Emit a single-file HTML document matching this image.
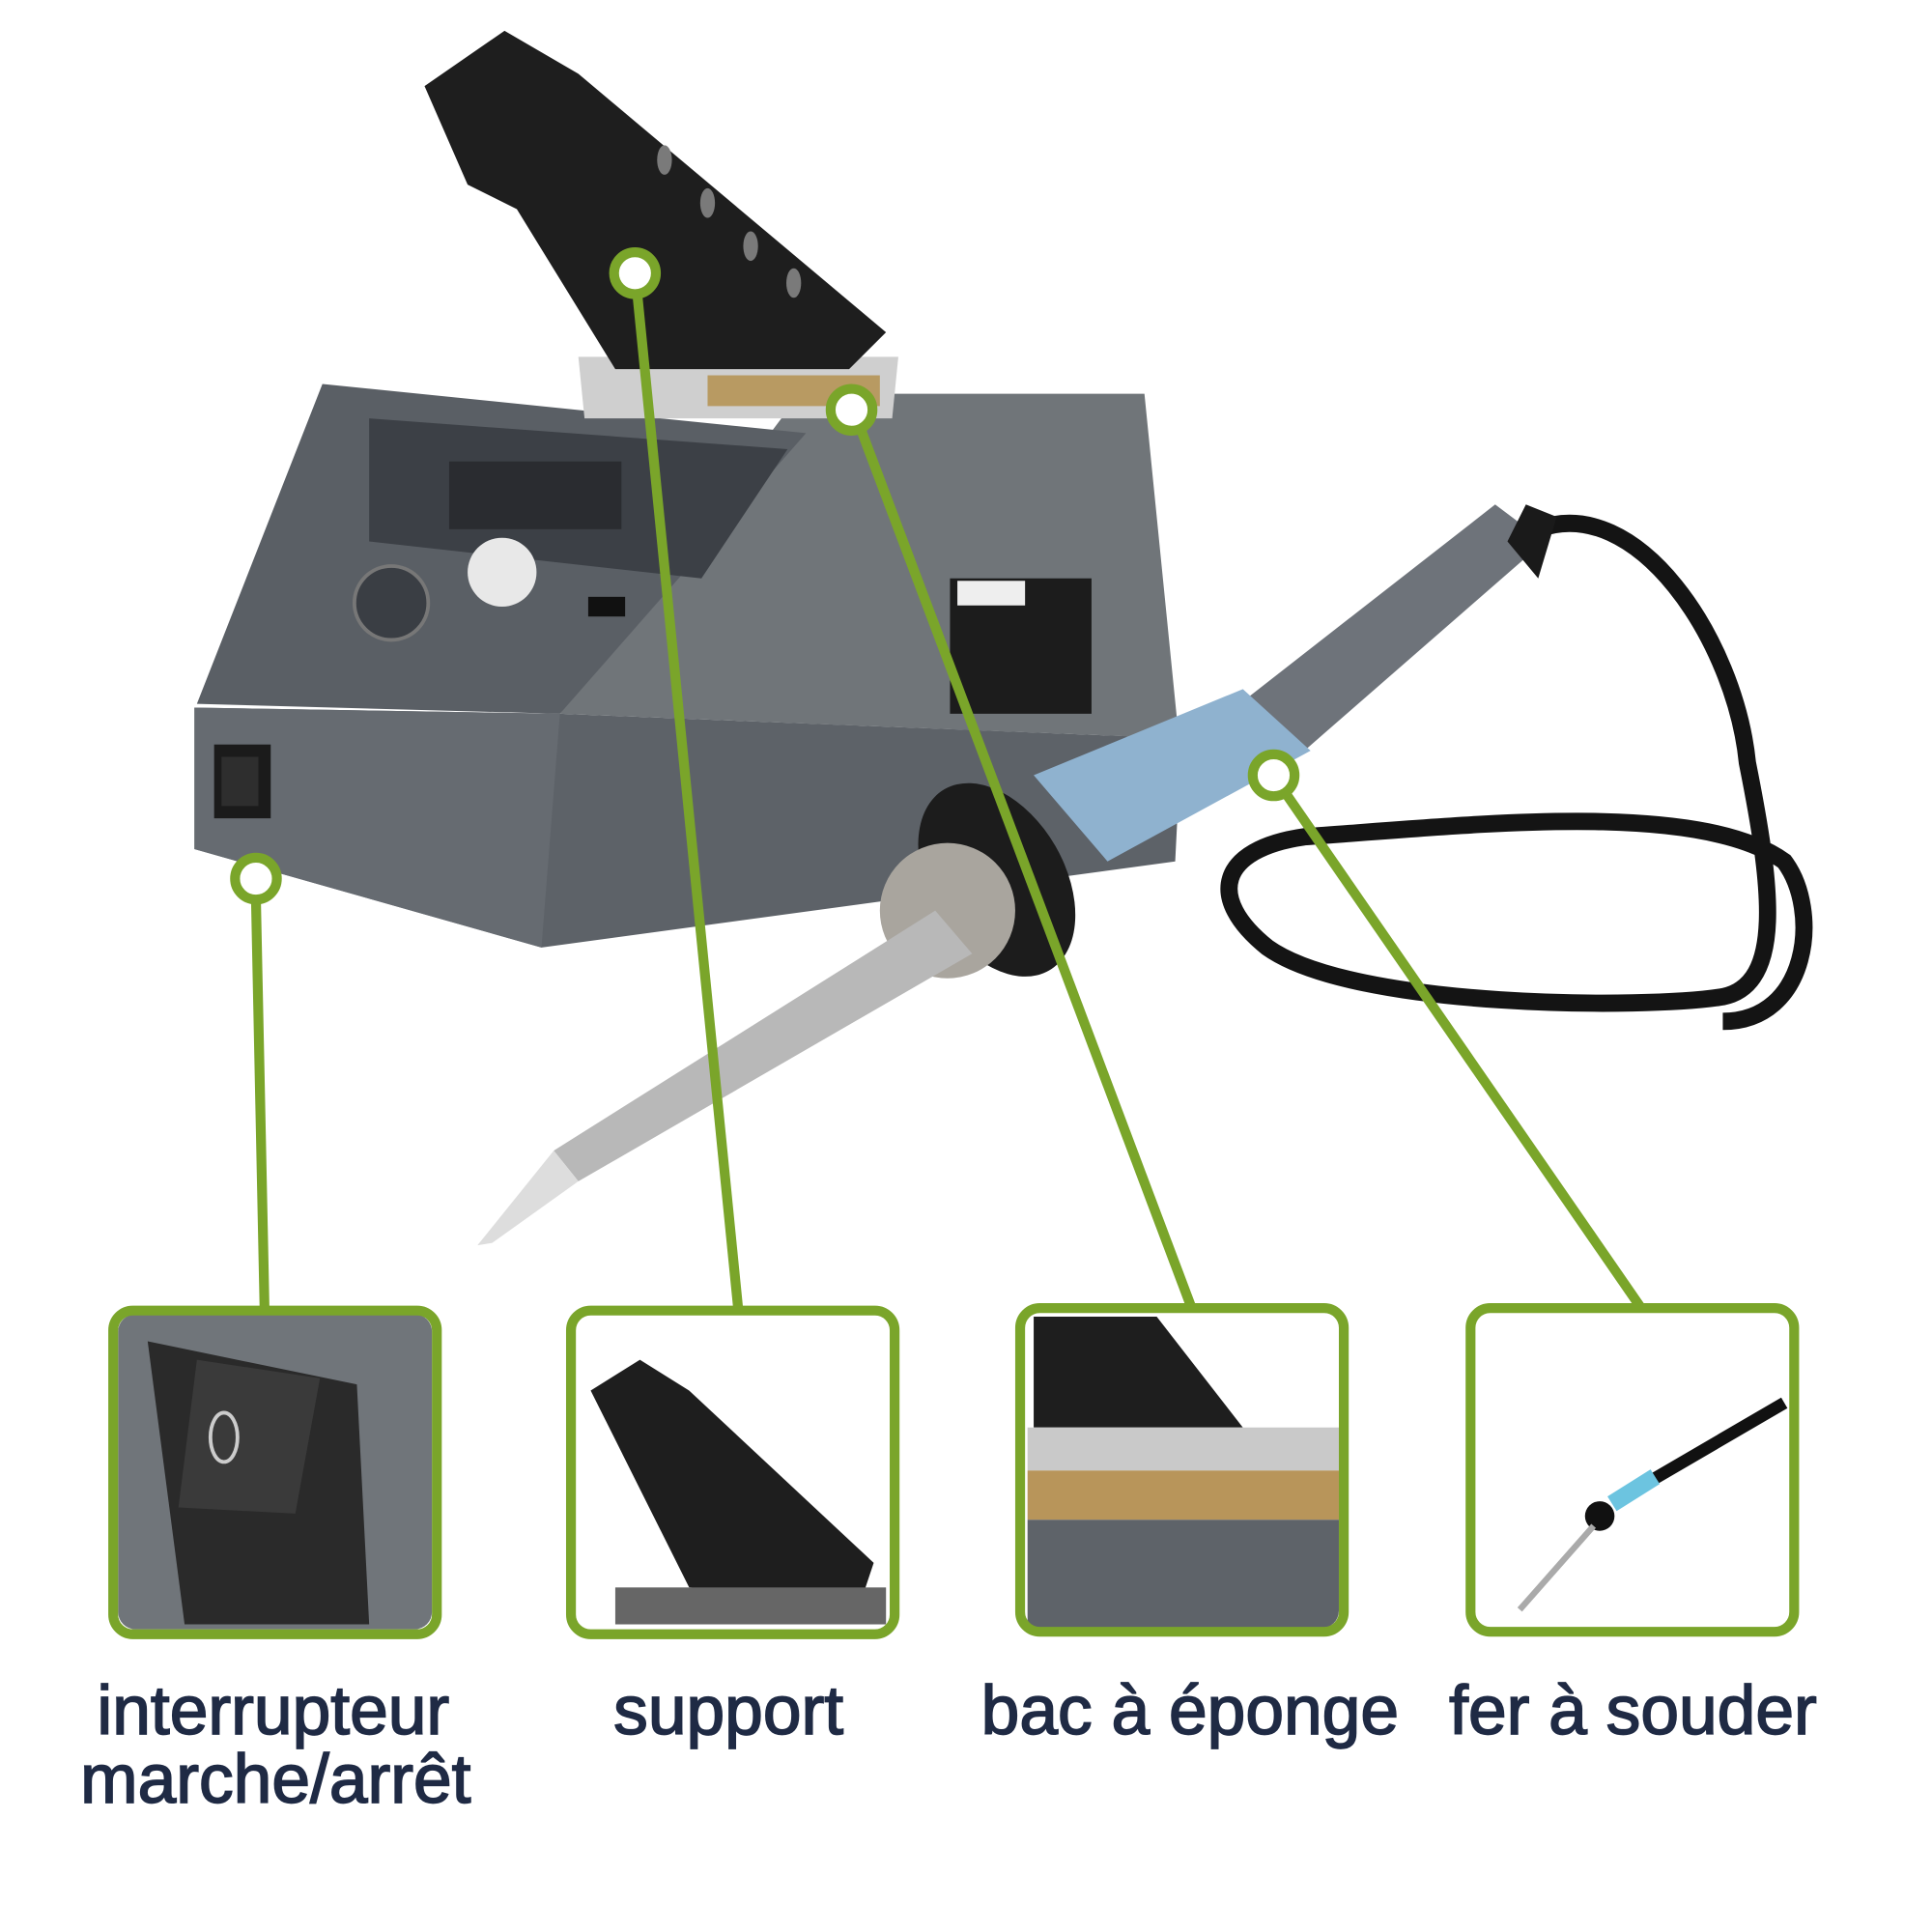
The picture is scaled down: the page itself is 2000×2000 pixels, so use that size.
<!DOCTYPE html>
<html><head><meta charset="utf-8"><style>
html,body{margin:0;padding:0;background:#fff;}
svg{display:block}
</style></head><body>
<svg width="2000" height="2000" viewBox="0 0 1570 1570" xmlns="http://www.w3.org/2000/svg">
<rect width="1570" height="1570" fill="#fff"/>
<path d="M1250,430 C1330,400 1410,520 1420,620 C1440,720 1450,800 1400,810 C1340,820 1100,820 1030,770 C980,730 990,690 1060,680 C1200,670 1380,650 1450,700 C1480,740 1470,830 1400,830" fill="none" stroke="#141414" stroke-width="14"/>
<polygon points="158,575 455,580 960,600 955,700 440,770 158,690" fill="#5d6268"/>
<polygon points="158,575 455,580 440,770 158,690" fill="#666b71"/>
<polygon points="650,320 930,320 958,600 455,580" fill="#707579"/>
<polygon points="262,312 655,352 455,580 160,572" fill="#5a5f65"/>
<polygon points="300,340 640,365 570,470 300,440" fill="#3c4046"/>
<rect x="365" y="375" width="140" height="55" fill="#2a2c30"/>
<circle cx="408" cy="465" r="28" fill="#e8e8e8"/>
<circle cx="318" cy="490" r="30" fill="#3a3e44" stroke="#777" stroke-width="3"/>
<rect x="478" y="485" width="30" height="16" fill="#111"/>
<rect x="174" y="605" width="46" height="60" fill="#1b1b1b"/>
<rect x="180" y="615" width="30" height="40" fill="#2e2e2e"/>
<rect x="772" y="470" width="115" height="110" fill="#1c1c1c"/>
<rect x="778" y="472" width="55" height="20" fill="#eee"/>
<polygon points="470,290 730,290 725,340 475,340" fill="#cfcfcf"/>
<rect x="575" y="305" width="140" height="25" fill="#b89a62"/>
<polygon points="345,70 410,25 470,60 720,270 690,300 500,300 420,170 380,150" fill="#1e1e1e"/>
<g fill="#7a7a7a"><ellipse cx="540" cy="130" rx="6" ry="12"/><ellipse cx="575" cy="165" rx="6" ry="12"/><ellipse cx="610" cy="200" rx="6" ry="12"/><ellipse cx="645" cy="230" rx="6" ry="12"/></g>
<polygon points="1215,410 1255,440 1060,610 1010,570" fill="#6e737a"/>
<polygon points="1240,410 1265,420 1250,470 1225,440" fill="#1a1a1a"/>
<polygon points="1010,560 1065,610 900,700 840,630" fill="#8fb2cf"/>
<ellipse cx="810" cy="715" rx="55" ry="85" transform="rotate(-30 810 715)" fill="#1c1c1c"/>
<circle cx="770" cy="740" r="55" fill="#a9a59e"/>
<polygon points="760,740 790,775 470,960 450,935" fill="#b8b8b8"/>
<polygon points="450,935 470,960 400,1010 388,1012" fill="#ddd"/>
<g stroke="#7aa52a" stroke-width="8" fill="none">
<line x1="208" y1="731" x2="215" y2="1065"/>
<line x1="518" y1="240" x2="600" y2="1065"/>
<line x1="700" y1="350" x2="968" y2="1062"/>
<line x1="1045" y1="645" x2="1333" y2="1062"/>
<circle cx="208" cy="714" r="17" fill="#fff"/>
<circle cx="516" cy="222" r="17" fill="#fff"/>
<circle cx="692" cy="333" r="17" fill="#fff"/>
<circle cx="1035" cy="630" r="17" fill="#fff"/>
</g>
<defs>
<clipPath id="c1"><rect x="96" y="1068" width="255" height="256" rx="14"/></clipPath>
<clipPath id="c3"><rect x="832" y="1065" width="256" height="258" rx="14"/></clipPath>
</defs>
<g clip-path="url(#c1)">
<rect x="90" y="1060" width="270" height="270" fill="#70757a"/>
<polygon points="120,1090 290,1125 300,1320 150,1320" fill="#2a2a2a"/>
<polygon points="160,1105 260,1120 240,1230 145,1225" fill="#3a3a3a"/>
<ellipse cx="182" cy="1168" rx="11" ry="20" fill="none" stroke="#ccc" stroke-width="3"/>
</g>
<polygon points="480,1130 520,1105 560,1130 710,1270 700,1300 560,1290" fill="#1e1e1e"/>
<rect x="500" y="1290" width="220" height="30" fill="#666"/>
<g clip-path="url(#c3)">
<rect x="830" y="1060" width="265" height="270" fill="#fff"/>
<polygon points="840,1070 940,1070 1010,1160 840,1160" fill="#1e1e1e"/>
<rect x="835" y="1160" width="260" height="35" fill="#c9c9c9"/>
<rect x="835" y="1195" width="260" height="40" fill="#b8955a"/>
<rect x="835" y="1235" width="260" height="95" fill="#5e6369"/>
</g>
<line x1="1450" y1="1140" x2="1330" y2="1210" stroke="#111" stroke-width="10"/>
<line x1="1345" y1="1200" x2="1310" y2="1222" stroke="#6cc4e0" stroke-width="14"/>
<circle cx="1300" cy="1232" r="12" fill="#111"/>
<line x1="1295" y1="1240" x2="1235" y2="1308" stroke="#aaa" stroke-width="5"/>
<g fill="none" stroke="#7aa52a" stroke-width="8">
<rect x="92" y="1065" width="263" height="263" rx="16"/>
<rect x="464" y="1065" width="263" height="263" rx="16"/>
<rect x="829" y="1063" width="263" height="263" rx="16"/>
<rect x="1195" y="1063" width="263" height="263" rx="16"/>
</g>
<g font-family="Liberation Sans, sans-serif" font-size="56" fill="#1f2a44" stroke="#1f2a44" stroke-width="1.3" text-anchor="middle">
<text x="222" y="1409">interrupteur</text>
<text x="224" y="1465">marche/arrêt</text>
<text x="592" y="1409">support</text>
<text x="967" y="1409">bac à éponge</text>
<text x="1327" y="1409">fer à souder</text>
</g>
</svg>
</body></html>
